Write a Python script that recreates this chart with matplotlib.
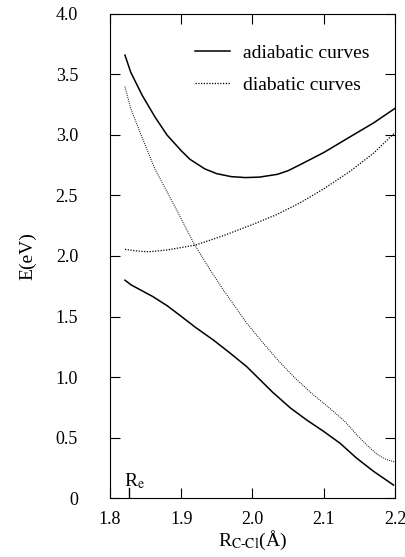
import numpy as np
import matplotlib.pyplot as plt

plt.rcParams['font.family'] = ['Liberation Serif', 'DejaVu Serif']
plt.rcParams['mathtext.fontset'] = 'stix'

# upper adiabatic curve
x_ad_up = [1.821, 1.829, 1.845, 1.863, 1.88, 1.90, 1.912, 1.933, 1.95, 1.97,
           1.99, 2.01, 2.035, 2.05, 2.067, 2.10, 2.137, 2.17, 2.20]
e_ad_up = [3.66, 3.52, 3.33, 3.15, 3.00, 2.87, 2.80, 2.72, 2.68, 2.656,
           2.648, 2.652, 2.675, 2.705, 2.755, 2.855, 2.985, 3.10, 3.22]

# lower adiabatic curve
x_ad_lo = [1.821, 1.83, 1.86, 1.88, 1.898, 1.92, 1.945, 1.968, 1.992, 2.029,
           2.053, 2.076, 2.10, 2.123, 2.146, 2.17, 2.198]
e_ad_lo = [1.80, 1.76, 1.665, 1.59, 1.51, 1.41, 1.306, 1.20, 1.085, 0.87,
           0.745, 0.645, 0.55, 0.452, 0.33, 0.22, 0.107]

# diabatic curve rising
x_di_1 = [1.821, 1.84, 1.855, 1.88, 1.92, 1.96, 2.00, 2.033, 2.067, 2.10,
          2.137, 2.17, 2.20]
e_di_1 = [2.055, 2.04, 2.035, 2.05, 2.09, 2.17, 2.26, 2.34, 2.44, 2.555,
          2.70, 2.85, 3.02]

# diabatic curve falling
x_di_2 = [1.821, 1.829, 1.845, 1.863, 1.89, 1.919, 1.94, 1.959, 1.992, 2.015,
          2.0386, 2.06, 2.085, 2.1088, 2.13, 2.146, 2.16, 2.175, 2.188, 2.20]
e_di_2 = [3.40, 3.22, 2.98, 2.72, 2.42, 2.09, 1.89, 1.72, 1.444, 1.28,
          1.12, 0.99, 0.855, 0.74, 0.63, 0.525, 0.44, 0.36, 0.318, 0.297]

re = 1.827

fig = plt.figure(figsize=(4.05, 5.57), dpi=100)
ax = fig.add_axes([0.2716, 0.1059, 0.7037, 0.869])

ax.plot(x_ad_up, e_ad_up, color='black', lw=1.1, label='adiabatic curves')
ax.plot(x_ad_lo, e_ad_lo, color='black', lw=1.1)
ax.plot(x_di_1, e_di_1, color='black', lw=0.9, ls=(0, (1, 1.2)), label='diabatic curves')
ax.plot(x_di_2, e_di_2, color='black', lw=0.7, ls=(0, (1, 1.2)))

# R_e marker
ax.plot([re, re], [0, 0.08], color='black', lw=1)
ax.text(re - 0.007, 0.1, r'R$_\mathrm{e}$', fontsize=14)

ax.set_xlim(1.8, 2.2)
ax.set_ylim(0, 4.0)
ax.set_xticks([1.8, 1.9, 2.0, 2.1, 2.2])
ax.set_xticklabels(['1.8', '1.9', '2.0', '2.1', '2.2'])
ax.set_yticks(np.arange(0, 4.01, 0.5))
ax.set_yticklabels(['0', '0.5', '1.0', '1.5', '2.0', '2.5', '3.0', '3.5', '4.0'])
ax.tick_params(direction='in', top=True, right=True, length=7, labelsize=13)
ax.tick_params(axis='y', pad=23)
ax.tick_params(axis='x', pad=9)

ax.set_ylabel('E(eV)', fontsize=14, labelpad=14)
ax.set_xlabel(r'R$_\mathrm{C\text{-}Cl}$(Å)', fontsize=14, labelpad=1)

ax.legend(loc='upper left', frameon=False, fontsize=14, handlelength=1.8,
          handletextpad=0.65, labelspacing=0.75, borderpad=0, borderaxespad=0,
          bbox_to_anchor=(195 / 405, 1 - 44 / 557), bbox_transform=fig.transFigure)

fig.savefig('out.png', dpi=100)
